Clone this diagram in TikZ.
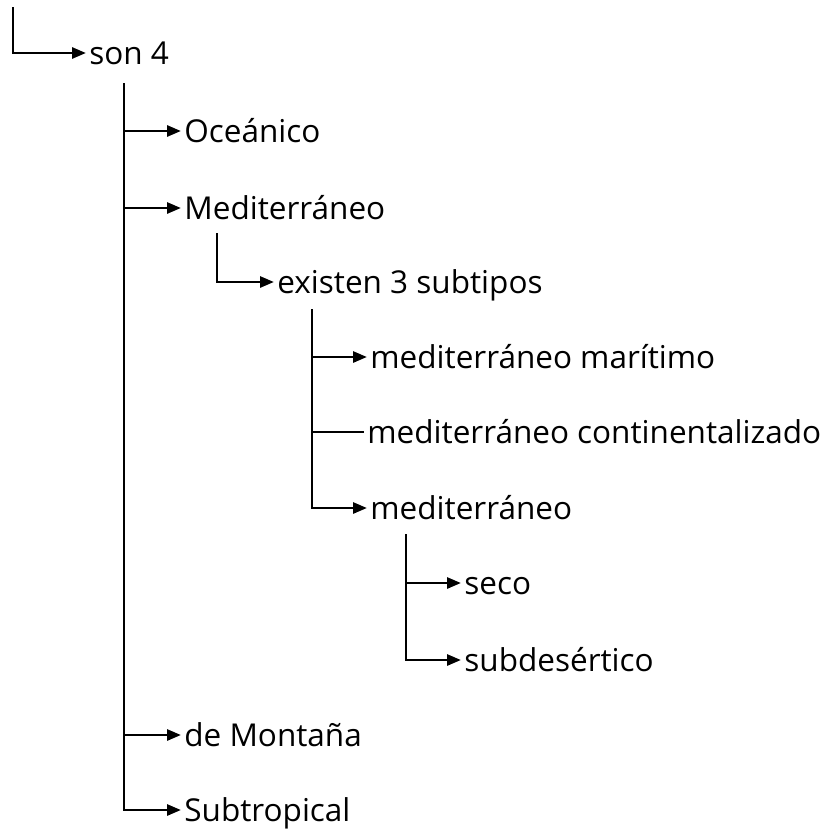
\documentclass[tikz,border=0pt]{standalone}
\usepackage{fontspec}
\newfontfamily\itemfont{Open Sans}
\usetikzlibrary{arrows.meta}

\begin{document}
\begin{tikzpicture}[x=1pt, y=-1pt, ->, >={Triangle[length=14pt,width=11pt]}, line width=2.8pt,
  item/.style={anchor=west, inner sep=2pt, font=\itemfont\fontsize{31.5}{36}\selectfont,
    text height=22pt, text depth=0pt}]
  \useasboundingbox (0,0) rectangle (825,830);

  % starting points of the vertical bars
  \coordinate (aux0) at (13,7);
  \coordinate (aux1) at (124,83);
  \coordinate (aux2) at (217,233);
  \coordinate (aux3) at (312,309);
  \coordinate (aux4) at (406,534);

  \node[item] (son)      at (86,53)   {son 4};
  \node[item] (oceanico) at (181,131) {Oceánico};
  \node[item] (medit)    at (181,208) {Mediterráneo};
  \node[item] (existen)  at (274,282) {existen 3 subtipos};
  \node[item] (maritimo) at (367,357) {mediterráneo marítimo};
  \node[item] (contin)   at (364,432) {mediterráneo continentalizado};
  \node[item] (mediter)  at (367,508) {mediterráneo};
  \node[item] (seco)     at (461,583) {seco};
  \node[item] (subdes)   at (461,660) {subdesértico};
  \node[item] (montana)  at (181,735) {de Montaña};
  \node[item] (subtrop)  at (181,810) {Subtropical};

  \draw (aux0) |- (son);
  \draw (aux1) |- (oceanico);
  \draw (aux1) |- (medit);
  \draw (aux1) |- (montana);
  \draw (aux1) |- (subtrop);
  \draw (aux2) |- (existen);
  \draw (aux3) |- (maritimo);
  \draw[-] (aux3) |- (contin);
  \draw (aux3) |- (mediter);
  \draw (aux4) |- (seco);
  \draw (aux4) |- (subdes);
\end{tikzpicture}
\end{document}
